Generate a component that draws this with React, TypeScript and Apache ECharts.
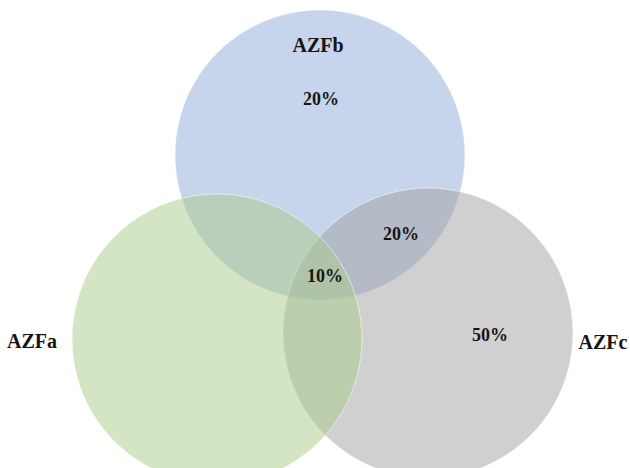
import React, { useEffect, useRef } from "react";
import * as echarts from "echarts";

// Sets of the Venn diagram
const setNames = ["AZFb", "AZFc", "AZFa"];
// Region labels and their values (%)
const regionNames = ["AZFb only", "AZFb ∩ AZFc", "AZFa ∩ AZFb ∩ AZFc", "AZFc only"];
const regionValues = [20, 20, 10, 50];

// Layout (data units = pixels of the 630x468 canvas)
const circleLayout = [
  { cx: 320, cy: 155, r: 145, color: "rgba(141,169,217,0.5)" },
  { cx: 428, cy: 333, r: 145, color: "rgba(161,161,161,0.5)" },
  { cx: 217, cy: 339, r: 145, color: "rgba(169,203,137,0.5)" },
];
const setLabelPos = [
  [318, 45],
  [603, 342],
  [32, 341],
];
const regionLabelPos = [
  [321, 99],
  [401, 234],
  [325, 276],
  [490, 335],
];

const FONT = '"Liberation Serif", "Times New Roman", serif';

export default function App() {
  const ref = useRef<HTMLDivElement>(null);
  useEffect(() => {
    document.body.style.margin = "0";
    const chart = echarts.init(ref.current!, null, { renderer: "svg" });
    const circleData = circleLayout.map((c, i) => ({
      name: setNames[i],
      value: [c.cx, c.cy, c.r],
      itemStyle: { color: c.color },
    }));
    const setLabelData = setNames.map((n, i) => ({
      name: n,
      value: [setLabelPos[i][0], setLabelPos[i][1]],
    }));
    const regionLabelData = regionNames.map((n, i) => ({
      name: n,
      value: [regionLabelPos[i][0], regionLabelPos[i][1], regionValues[i]],
    }));
    chart.setOption({
      animation: false,
      backgroundColor: "#ffffff",
      grid: { left: 0, right: 0, top: 0, bottom: 0 },
      xAxis: { type: "value", min: 0, max: 630, show: false },
      yAxis: { type: "value", min: 0, max: 468, inverse: true, show: false },
      series: [
        {
          type: "custom",
          data: circleData,
          renderItem: (params: any, api: any) => {
            const p = api.coord([api.value(0), api.value(1)]);
            const s = api.size([api.value(2), api.value(2)]);
            return {
              type: "circle",
              shape: { cx: p[0], cy: p[1], r: s[0] },
              style: {
                fill: circleLayout[params.dataIndex].color,
                stroke: "rgba(255,255,255,0.55)",
                lineWidth: 1,
              },
            };
          },
          z: 1,
        },
        {
          type: "custom",
          data: setLabelData,
          renderItem: (params: any, api: any) => {
            const p = api.coord([api.value(0), api.value(1)]);
            return {
              type: "text",
              x: p[0],
              y: p[1],
              style: {
                text: setNames[params.dataIndex],
                fontSize: 20,
                fontWeight: "bold",
                fontFamily: FONT,
                fill: "#151515",
                textAlign: "center",
                textVerticalAlign: "middle",
              },
            };
          },
          z: 3,
        },
        {
          type: "custom",
          data: regionLabelData,
          renderItem: (params: any, api: any) => {
            const p = api.coord([api.value(0), api.value(1)]);
            return {
              type: "text",
              x: p[0],
              y: p[1],
              style: {
                text: api.value(2) + "%",
                fontSize: 18,
                fontWeight: "bold",
                fontFamily: FONT,
                fill: "#151515",
                textAlign: "center",
                textVerticalAlign: "middle",
              },
            };
          },
          z: 3,
        },
      ],
    });
    return () => chart.dispose();
  }, []);
  return <div ref={ref} style={{ width: 630, height: 468 }} />;
}
